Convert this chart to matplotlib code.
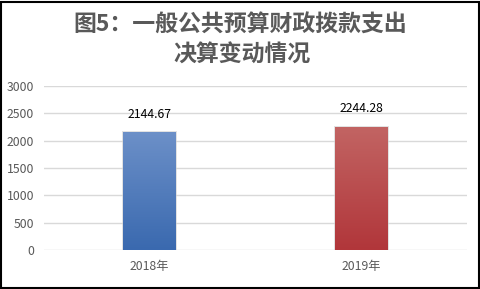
import matplotlib
matplotlib.use("Agg")
import matplotlib.pyplot as plt
import numpy as np
from matplotlib.colors import LinearSegmentedColormap
from matplotlib.patches import Rectangle

plt.rcParams['font.family'] = ['Noto Sans CJK SC', 'DejaVu Sans']

categories = ["2018年", "2019年"]
values = [2144.67, 2244.28]
value_labels = ["2144.67", "2244.28"]
yticks = [0, 500, 1000, 1500, 2000, 2500, 3000]
title_line1 = "图5：一般公共预算财政拨款支出"
title_line2 = "决算变动情况"

gradients = [("#6C90C8", "#3A69AF"), ("#C26463", "#B1363A")]

W, H = 481, 289
fig = plt.figure(figsize=(W / 100, H / 100), dpi=100)
fig.patch.set_facecolor("white")

# border
fig.add_artist(Rectangle((0.5 / W, 1.5 / H), (W - 2) / W, (H - 3) / H,
                         transform=fig.transFigure, fill=False,
                         edgecolor="black", linewidth=1.5))

ax = fig.add_axes([44 / W, 39 / H, 423 / W, 164 / H])
x = np.arange(len(categories))
bars = ax.bar(x, values, width=0.25, color="none", zorder=3)
for b, (top, bot) in zip(bars, gradients):
    cmap = LinearSegmentedColormap.from_list("g", [bot, top])
    x0, y0 = b.get_x(), b.get_y()
    w, h = b.get_width(), b.get_height()
    grad = np.linspace(0, 1, 256).reshape(-1, 1)
    ax.imshow(grad, cmap=cmap, aspect="auto", origin="lower",
              extent=(x0, x0 + w, y0, y0 + h), zorder=3)
    sh = Rectangle((x0 - 0.004, y0), w + 0.008, h + 25, facecolor="#d0d0d0",
                   edgecolor="none", alpha=0.6, zorder=2.5)
    ax.add_patch(sh)

for xi, v, lab in zip(x, values, value_labels):
    ax.text(xi, v + 220, lab, ha="center", va="bottom", fontsize=8.8,
            color="black")

ax.set_xlim(-0.5, 1.5)
ax.set_ylim(0, 3000)
ax.set_yticks(yticks)
ax.set_yticklabels([str(t) for t in yticks])
ax.set_xticks(x)
ax.set_xticklabels(categories)
ax.grid(axis="y", color="#d9d9d9", linewidth=1, zorder=0)
ax.set_axisbelow(True)
for s in ax.spines.values():
    s.set_visible(False)
ax.tick_params(axis="both", length=0, colors="#595959", labelsize=8.8)
ax.tick_params(axis="y", pad=7)
ax.tick_params(axis="x", pad=7)

fig.text(240.5 / W, 1 - 25 / H, title_line1, ha="center", va="center",
         fontsize=16.5, fontweight="bold", color="#595959")
fig.text(242.5 / W, 1 - 55 / H, title_line2, ha="center", va="center",
         fontsize=16.5, fontweight="bold", color="#595959")

fig.savefig("out.png", dpi=100)
